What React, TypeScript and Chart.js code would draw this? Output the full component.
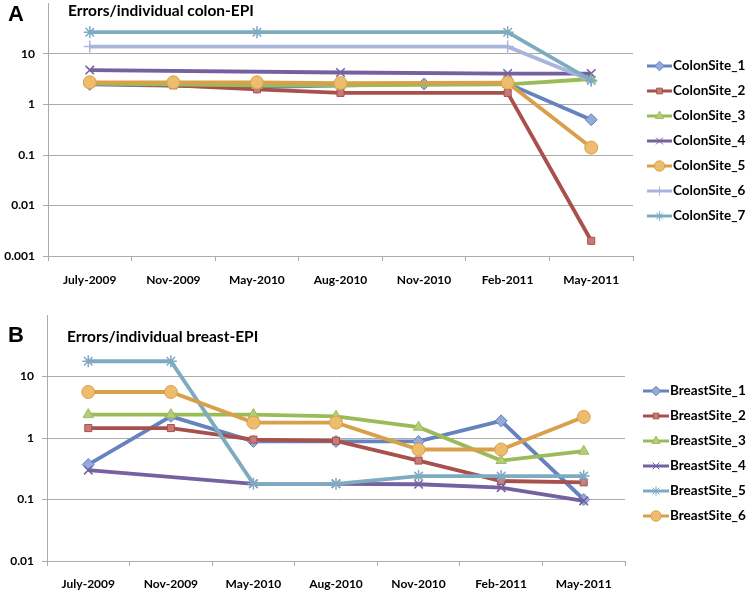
import React, { useEffect, useRef } from "react";
import { Chart, registerables } from "chart.js";
import { drawPoint } from "chart.js/helpers";

Chart.register(...registerables);

const categories = ["July-2009", "Nov-2009", "May-2010", "Aug-2010", "Nov-2010", "Feb-2011", "May-2011"];

const colonLabels = ["ColonSite_1", "ColonSite_2", "ColonSite_3", "ColonSite_4", "ColonSite_5", "ColonSite_6", "ColonSite_7"];
const colonSite1 = [2.5, null, 2.2, null, 2.55, 2.6, 0.5];
const colonSite2 = [2.6, 2.4, 2.0, 1.7, null, 1.7, 0.002];
const colonSite3 = [2.6, null, 2.4, 2.4, null, 2.5, 3.2];
const colonSite4 = [4.8, null, null, 4.3, null, 4.1, 4.1];
const colonSite5 = [2.75, 2.75, 2.75, 2.65, null, 2.7, 0.14];
const colonSite6 = [14, null, null, null, null, 14, 3.0];
const colonSite7 = [27, null, 27, null, null, 27, 3.0];

const breastLabels = ["BreastSite_1", "BreastSite_2", "BreastSite_3", "BreastSite_4", "BreastSite_5", "BreastSite_6"];
const breastSite1 = [0.37, 2.25, 0.88, 0.88, 0.88, 1.9, 0.1];
const breastSite2 = [1.45, 1.45, 0.94, 0.9, 0.43, 0.2, 0.19];
const breastSite3 = [2.4, 2.4, 2.4, 2.25, 1.5, 0.43, 0.61];
const breastSite4 = [0.3, null, 0.18, 0.18, 0.177, 0.156, 0.095];
const breastSite5 = [17.7, 17.7, 0.18, 0.18, 0.24, 0.24, 0.24];
const breastSite6 = [5.6, 5.6, 1.78, 1.78, 0.65, 0.65, 2.2];

const yTicksA = [0.001, 0.01, 0.1, 1, 10];
const yTicksB = [0.01, 0.1, 1, 10];

const BLUE = { line: "#6583BF", fill: "#93ABDA" };
const RED = { line: "#A8504C", fill: "#C97A74" };
const GREEN = { line: "#9BBB59", fill: "#B3CE7A" };
const PURPLE = { line: "#7461A0", fill: "#9483BE" };
const ORANGE = { line: "#D9A04A", fill: "#EDBC6C" };
const LAVENDER = { line: "#AAB5DC", fill: "#C4CCE8" };
const AQUA = { line: "#7EAAC2", fill: "#A3C6D8" };

const FONT = "Lato, 'Liberation Sans', sans-serif";
const GRID = "#ABABAB";

const excelLegend = {
  id: "excelLegend",
  afterDraw(chart: any, _args: any, opts: any) {
    if (!opts || opts.x0 === undefined) return;
    const ctx = chart.ctx;
    chart.data.datasets.forEach((ds: any, i: number) => {
      const y = opts.y0 + i * opts.step;
      ctx.save();
      ctx.strokeStyle = ds.borderColor;
      ctx.lineWidth = 3;
      ctx.beginPath();
      ctx.moveTo(opts.x0, y);
      ctx.lineTo(opts.x1, y);
      ctx.stroke();
      ctx.fillStyle = ds.pointBackgroundColor;
      ctx.strokeStyle = ds.pointBorderColor;
      ctx.lineWidth = 1;
      drawPoint(ctx, { pointStyle: ds.pointStyle, radius: ds.pointRadius * 0.8, borderWidth: 1, rotation: 0 }, (opts.x0 + opts.x1) / 2, y);
      ctx.fillStyle = "#000";
      ctx.font = "bold 13.5px " + FONT;
      ctx.textBaseline = "middle";
      ctx.textAlign = "left";
      ctx.fillText(ds.label, opts.x1 + 1, y);
      ctx.restore();
    });
  },
};

function makeDataset(label: string, data: (number | null)[], c: { line: string; fill: string }, style: string, radius: number, idx: number, n: number) {
  const open = style === "cross" || style === "crossRot" || style === "star";
  return {
    label,
    data,
    borderColor: c.line,
    backgroundColor: c.line,
    borderWidth: 3.8,
    pointStyle: style,
    pointRadius: radius,
    pointBackgroundColor: c.fill,
    pointBorderColor: c.line,
    pointBorderWidth: open ? 1.5 : 1,
    tension: 0,
    spanGaps: true,
    order: n - 1 - idx,
  };
}

function buildConfig(
  datasets: any[],
  yMin: number,
  yTicks: number[],
  pad: { top: number; right: number },
  yWidth: number,
  xHeight: number,
  xPad: number,
  legendOpts: any
) {
  return {
    type: "line" as const,
    data: { labels: categories, datasets },
    plugins: [excelLegend],
    options: {
      responsive: false,
      animation: false as const,
      layout: { padding: { top: pad.top, right: pad.right, left: 0, bottom: 0 } },
      plugins: {
        legend: { display: false },
        tooltip: { enabled: false },
        title: { display: false },
        excelLegend: legendOpts,
      },
      scales: {
        x: {
          type: "category" as const,
          offset: true,
          grid: { display: true, drawOnChartArea: false, drawTicks: true, tickLength: 5, offset: true, color: GRID },
          border: { display: true, color: GRID, width: 1 },
          ticks: { color: "#000", font: { family: FONT, size: 12, weight: "bold" as const }, padding: xPad, maxRotation: 0, autoSkip: false },
          afterFit(scale: any) {
            scale.height = xHeight;
            scale.paddingTop = 0;
            scale.paddingBottom = 0;
          },
        },
        y: {
          type: "logarithmic" as const,
          min: yMin,
          max: 100,
          grid: { display: true, drawOnChartArea: true, drawTicks: true, tickLength: 5, color: GRID },
          border: { display: true, color: GRID, width: 1 },
          ticks: {
            color: "#000",
            font: { family: FONT, size: 12, weight: "bold" as const, lineHeight: 0.2 },
            padding: 8,
            callback: (v: any) => String(v),
          },
          afterBuildTicks(scale: any) {
            scale.ticks = yTicks.map((v) => ({ value: v }));
          },
          afterFit(scale: any) {
            scale.width = yWidth;
            scale.paddingTop = 0;
            scale.paddingBottom = 0;
          },
        },
      },
    },
  };
}

function App() {
  const refA = useRef<HTMLCanvasElement | null>(null);
  const refB = useRef<HTMLCanvasElement | null>(null);

  useEffect(() => {
    const colonData = [colonSite1, colonSite2, colonSite3, colonSite4, colonSite5, colonSite6, colonSite7];
    const colonColors = [BLUE, RED, GREEN, PURPLE, ORANGE, LAVENDER, AQUA];
    const colonStyles = ["rectRot", "rect", "triangle", "crossRot", "circle", "cross", "star"];
    const colonRadius = [6, 5, 6, 6, 6.5, 6, 6];
    const dsA = colonData.map((d, i) => makeDataset(colonLabels[i], d, colonColors[i], colonStyles[i], colonRadius[i], i, colonData.length));

    const breastData = [breastSite1, breastSite2, breastSite3, breastSite4, breastSite5, breastSite6];
    const breastColors = [BLUE, RED, GREEN, PURPLE, AQUA, ORANGE];
    const breastStyles = ["rectRot", "rect", "triangle", "crossRot", "star", "circle"];
    const breastRadius = [6, 5, 6, 6, 6, 6.5];
    const dsB = breastData.map((d, i) => makeDataset(breastLabels[i], d, breastColors[i], breastStyles[i], breastRadius[i], i, breastData.length));

    const chartA = new Chart(
      refA.current as HTMLCanvasElement,
      buildConfig(dsA, 0.001, yTicksA, { top: 3, right: 114 }, 48, 34, 12, { x0: 647, x1: 672, y0: 70, step: 25 }) as any
    );
    const chartB = new Chart(
      refB.current as HTMLCanvasElement,
      buildConfig(dsB, 0.01, yTicksB, { top: 25, right: 122 }, 47, 32, 11, { x0: 643, x1: 669, y0: 101, step: 25 }) as any
    );
    return () => {
      chartA.destroy();
      chartB.destroy();
    };
  }, []);

  const titleStyle: React.CSSProperties = {
    position: "absolute",
    fontFamily: FONT,
    fontWeight: "bold",
    fontSize: 15.5,
    lineHeight: "18px",
    color: "#000",
    whiteSpace: "nowrap",
  };
  const letterStyle: React.CSSProperties = {
    position: "absolute",
    fontFamily: "'Liberation Sans', Arial, sans-serif",
    fontWeight: "bold",
    fontSize: 22,
    lineHeight: "26px",
    color: "#000",
  };

  return (
    <div style={{ position: "absolute", left: 0, top: 0, width: 747, height: 593, background: "#fff", overflow: "hidden" }}>
      <canvas ref={refA} width={747} height={294} style={{ position: "absolute", left: 0, top: -4 }} />
      <canvas ref={refB} width={747} height={303} style={{ position: "absolute", left: 0, top: 290 }} />
      <div style={{ ...letterStyle, left: 8, top: 1 }}>A</div>
      <div style={{ ...titleStyle, left: 68, top: 1 }}>Errors/individual colon-EPI</div>
      <div style={{ ...letterStyle, left: 8, top: 322 }}>B</div>
      <div style={{ ...titleStyle, left: 67, top: 327 }}>Errors/individual breast-EPI</div>
    </div>
  );
}

export default App;
